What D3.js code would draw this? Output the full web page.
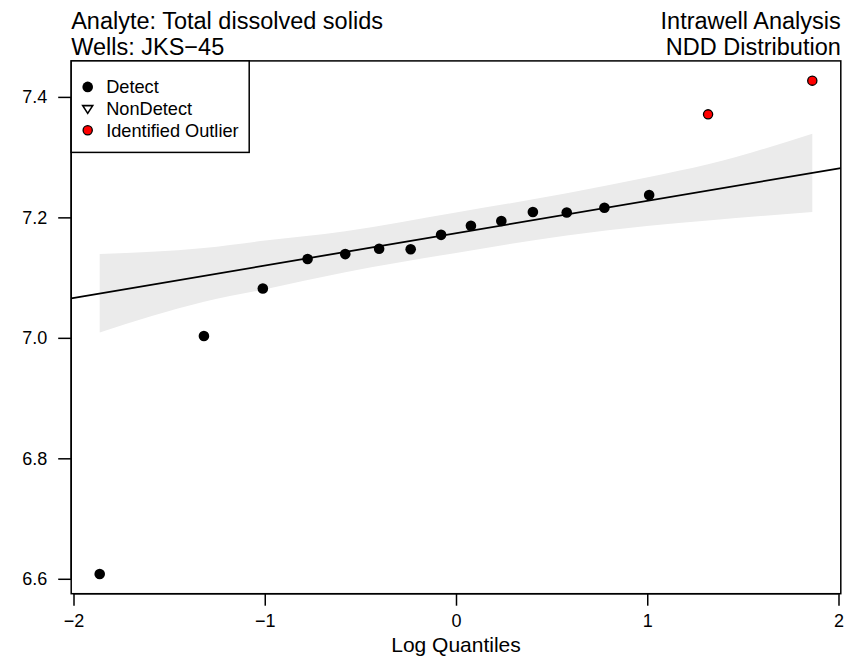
<!DOCTYPE html>
<html>
<head>
<meta charset="utf-8">
<script src="https://cdn.jsdelivr.net/npm/d3@7"></script>
<style>
  html, body { margin: 0; padding: 0; background: #fff; }
  svg text { font-family: "Liberation Sans", Arial, Helvetica, sans-serif; fill: #000; }
</style>
</head>
<body>
<svg id="chart" width="863" height="658"></svg>
<script>
// ---- data ----
const quantiles = [-1.863, -1.318, -1.010, -0.776, -0.579, -0.402, -0.237, -0.078,
                    0.078, 0.237, 0.402, 0.579, 0.776, 1.010, 1.318, 1.863];
const values = [6.608, 7.003, 7.082, 7.131, 7.139, 7.148, 7.147, 7.171,
                7.186, 7.194, 7.209, 7.208, 7.216, 7.237, 7.371, 7.427];
const pointType = ["Detect","Detect","Detect","Detect","Detect","Detect","Detect","Detect",
                   "Detect","Detect","Detect","Detect","Detect","Detect","Outlier","Outlier"];

const bandQ     = [-1.863, -1.318, -1.010, -0.579, 0.000, 0.579, 1.010, 1.318, 1.863];
const bandUpper = [ 7.139,  7.149,  7.161,  7.177, 7.208, 7.240, 7.267, 7.288, 7.339];
const bandLower = [ 7.009,  7.060,  7.080,  7.109, 7.141, 7.170, 7.186, 7.195, 7.209];

const fitIntercept = 7.1737;
const fitSlope = 0.0537;

const xTicks = [-2, -1, 0, 1, 2];
const yTicks = [6.6, 6.8, 7.0, 7.2, 7.4];

const titleLeft = ["Analyte: Total dissolved solids", "Wells: JKS\u221245"];
const titleRight = ["Intrawell Analysis", "NDD Distribution"];
const xLabel = "Log Quantiles";
const legendLabels = ["Detect", "NonDetect", "Identified Outlier"];

// ---- layout ----
const box = { left: 71.2, right: 840.8, top: 60.9, bottom: 593.7 };
const svg = d3.select("#chart");

// R-style 4% range extension
function ext(arr) {
  const [a, b] = d3.extent(arr);
  const d = (b - a) * 0.04;
  return [a - d, b + d];
}
const x = d3.scaleLinear().domain(ext(quantiles)).range([box.left, box.right]);
const y = d3.scaleLinear().domain(ext(values)).range([box.bottom, box.top]);

svg.append("clipPath").attr("id", "clip")
  .append("rect").attr("x", box.left).attr("y", box.top)
  .attr("width", box.right - box.left).attr("height", box.bottom - box.top);

const plot = svg.append("g").attr("clip-path", "url(#clip)");

// band
const bandData = bandQ.map((q, i) => ({ q, lo: bandLower[i], hi: bandUpper[i] }));
plot.append("path")
  .datum(bandData)
  .attr("fill", "#EBEBEB")
  .attr("d", d3.area().x(d => x(d.q)).y0(d => y(d.lo)).y1(d => y(d.hi)).curve(d3.curveMonotoneX));

// fit line
const xd = x.domain();
plot.append("line")
  .attr("x1", x(xd[0])).attr("x2", x(xd[1]))
  .attr("y1", y(fitIntercept + fitSlope * xd[0]))
  .attr("y2", y(fitIntercept + fitSlope * xd[1]))
  .attr("stroke", "#000").attr("stroke-width", 1.8);

// points
const pts = quantiles.map((q, i) => ({ q, v: values[i], t: pointType[i] }));
plot.selectAll("circle.pt").data(pts).enter().append("circle")
  .attr("class", "pt")
  .attr("cx", d => x(d.q)).attr("cy", d => y(d.v))
  .attr("r", d => d.t === "Outlier" ? 4.6 : 5.3)
  .attr("fill", d => d.t === "Outlier" ? "#FF0000" : "#000")
  .attr("stroke", "#000")
  .attr("stroke-width", d => d.t === "Outlier" ? 1.3 : 0);

// box
svg.append("rect")
  .attr("x", box.left).attr("y", box.top)
  .attr("width", box.right - box.left).attr("height", box.bottom - box.top)
  .attr("fill", "none").attr("stroke", "#000").attr("stroke-width", 1.5);

// x axis
const xAxis = svg.append("g").attr("transform", `translate(0,${box.bottom})`)
  .call(d3.axisBottom(x).tickValues(xTicks).tickSize(12).tickPadding(9)
    .tickFormat(d => d3.format("d")(d).replace("-", "\u2212")));
xAxis.select(".domain").attr("stroke-width", 1.5)
  .attr("d", `M${x(xTicks[0])},0H${x(xTicks[xTicks.length-1])}`);
xAxis.selectAll(".tick line").attr("stroke-width", 1.5);
xAxis.selectAll(".tick text").attr("font-size", 18).attr("font-family", "Liberation Sans, Arial, sans-serif");

// y axis
const yAxis = svg.append("g").attr("transform", `translate(${box.left},0)`)
  .call(d3.axisLeft(y).tickValues(yTicks).tickSize(13).tickPadding(11)
    .tickFormat(d3.format(".1f")));
yAxis.select(".domain").attr("stroke-width", 1.5)
  .attr("d", `M0,${y(yTicks[0])}V${y(yTicks[yTicks.length-1])}`);
yAxis.selectAll(".tick line").attr("stroke-width", 1.5);
yAxis.selectAll(".tick text").attr("font-size", 18).attr("font-family", "Liberation Sans, Arial, sans-serif");

// titles
svg.selectAll("text.tl").data(titleLeft).enter().append("text")
  .attr("class", "tl").attr("x", box.left).attr("y", (d, i) => 28.5 + i * 26.8)
  .attr("font-size", 23.5).text(d => d);
svg.selectAll("text.tr").data(titleRight).enter().append("text")
  .attr("class", "tr").attr("x", box.right).attr("y", (d, i) => 28.5 + i * 26.8)
  .attr("text-anchor", "end").attr("font-size", 23.5).text(d => d);

svg.append("text").attr("x", (box.left + box.right) / 2).attr("y", 652)
  .attr("text-anchor", "middle").attr("font-size", 21).text(xLabel);

// legend
const lg = svg.append("g");
lg.append("rect").attr("x", box.left).attr("y", box.top)
  .attr("width", 178).attr("height", 91.5)
  .attr("fill", "#fff").attr("stroke", "#000").attr("stroke-width", 1.5);
const rowY = i => box.top + 26 + i * 21.7;
legendLabels.forEach((lab, i) => {
  const cy = rowY(i), cx = box.left + 16.5;
  if (i === 0) {
    lg.append("circle").attr("cx", cx).attr("cy", cy).attr("r", 5.3).attr("fill", "#000");
  } else if (i === 1) {
    const s = 5;
    lg.append("path")
      .attr("d", `M${cx - s},${cy - s * 0.6}L${cx + s},${cy - s * 0.6}L${cx},${cy + s * 0.95}Z`)
      .attr("fill", "none").attr("stroke", "#000").attr("stroke-width", 1.6);
  } else {
    lg.append("circle").attr("cx", cx).attr("cy", cy).attr("r", 4.6)
      .attr("fill", "#FF0000").attr("stroke", "#000").attr("stroke-width", 1.3);
  }
  lg.append("text").attr("x", box.left + 35).attr("y", cy)
    .attr("dy", "0.35em").attr("font-size", 18.2).text(lab);
});
</script>
</body>
</html>
